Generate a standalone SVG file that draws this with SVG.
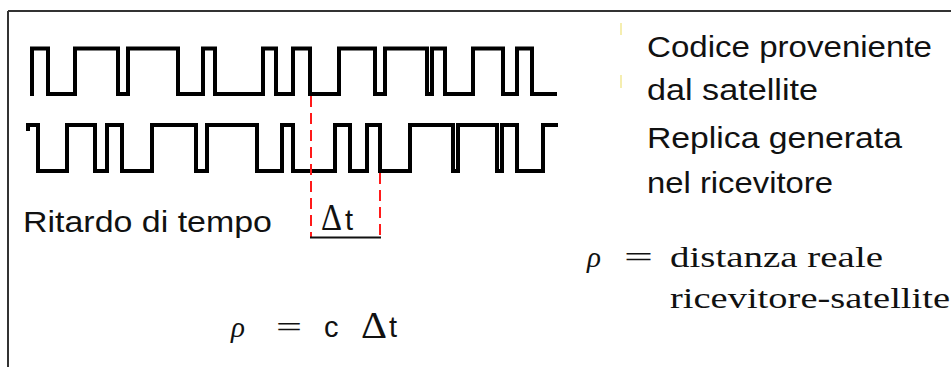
<svg xmlns="http://www.w3.org/2000/svg" width="951" height="367" viewBox="0 0 951 367">
<style>
.wave{fill:none;stroke:#000;stroke-width:4;stroke-linejoin:miter;stroke-linecap:square}
.sans{font-family:"Liberation Sans",Arial,sans-serif;font-size:29px;fill:#111}
.serif{font-family:"Liberation Serif","Times New Roman",serif;font-size:29px;fill:#111}
.delta{font-family:"Liberation Serif","Times New Roman",serif;font-size:37px;fill:#111}
.red{stroke:#ff1a1a;stroke-width:2;stroke-dasharray:11 6;fill:none}
</style>
<rect x="0" y="0" width="951" height="367" fill="#fff"/>
<g id="frame">
<line x1="8" y1="11" x2="951" y2="11" stroke="#333" stroke-width="2"/>
<line x1="8" y1="11" x2="8" y2="367" stroke="#333" stroke-width="2"/>
<line x1="621" y1="23" x2="621" y2="35" stroke="#f5eeb0" stroke-width="2"/>
<line x1="621" y1="75" x2="621" y2="88" stroke="#f5eeb0" stroke-width="2"/>
</g>
<g id="codice-satellite">
<path class="wave" d="M32,94 V48.5 H48 V94 H75 V48.5 H118 V94 H128 V48.5 H178 V94 H203 V48.5 H215 V94 H263 V48.5 H276 V94 H293 V48.5 H310 V94 H339 V48.5 H375 V94 H385 V48.5 H427 V94 H432 V48.5 H445 V94 H473 V48.5 H503 V94 H517 V48.5 H532 V94 H555"/>
</g>
<g id="replica-ricevitore">
<path class="wave" d="M28,129 V125 H38 V171 H67 V125 H95 V171 H107 V125 H122 V171 H152 V125 H196 V171 H207 V125 H257 V171 H282 V125 H293 V171 H335 V125 H350 V171 H367 V125 H380 V171 H410 V125 H453 V171 H458 V125 H497 V171 H502 V125 H517 V171 H543 V125 H556"/>
</g>
<g id="connectors">
<line class="red" x1="311" y1="96" x2="311" y2="237"/>
<line class="red" x1="380" y1="173" x2="380" y2="237"/>
<line x1="310" y1="237.5" x2="381" y2="237.5" stroke="#111" stroke-width="2"/>
</g>
<g id="labels">
<text class="sans" x="23" y="232" textLength="249" lengthAdjust="spacingAndGlyphs">Ritardo di tempo</text>
<text class="delta" x="321" y="230" textLength="21" lengthAdjust="spacingAndGlyphs">Δ</text>
<text class="sans" x="345" y="230">t</text>
<text class="sans" x="647" y="57" textLength="285" lengthAdjust="spacingAndGlyphs">Codice proveniente</text>
<text class="sans" x="647" y="100" textLength="171" lengthAdjust="spacingAndGlyphs">dal satellite</text>
<text class="sans" x="647" y="148" textLength="255" lengthAdjust="spacingAndGlyphs">Replica generata</text>
<text class="sans" x="647" y="193" textLength="186" lengthAdjust="spacingAndGlyphs">nel ricevitore</text>
<text class="serif" x="587" y="267" font-style="italic">ρ</text>
<text class="serif" x="624" y="267" textLength="29" lengthAdjust="spacingAndGlyphs">=</text>
<text class="serif" x="670" y="267" textLength="213" lengthAdjust="spacingAndGlyphs">distanza reale</text>
<text class="serif" x="670" y="308" textLength="280" lengthAdjust="spacingAndGlyphs">ricevitore-satellite</text>
<text class="serif" x="231" y="337" font-style="italic">ρ</text>
<text class="serif" x="276" y="337" textLength="26" lengthAdjust="spacingAndGlyphs">=</text>
<text class="sans" x="324" y="337">c</text>
<text class="delta" x="361" y="338" textLength="26" lengthAdjust="spacingAndGlyphs">Δ</text>
<text class="sans" x="389" y="337">t</text>
</g>
</svg>
